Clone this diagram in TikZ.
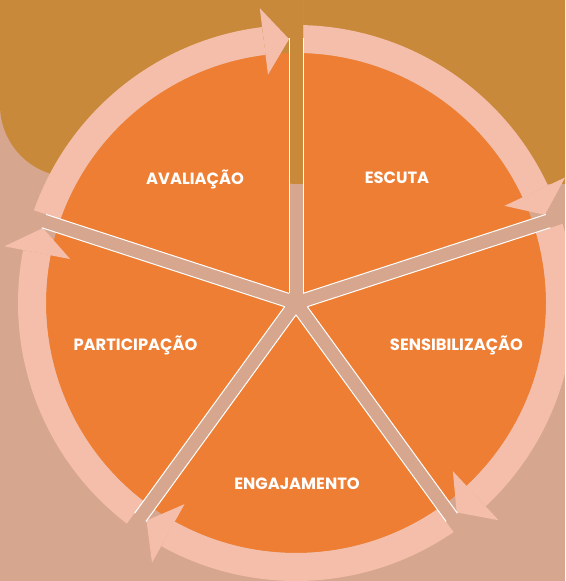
\documentclass[tikz,border=0pt]{standalone}
\usepackage{fontspec}
\setmainfont{Poppins}
\usetikzlibrary{calc}
\definecolor{mybrown}{RGB}{200,137,58}
\definecolor{mytan}{RGB}{214,166,142}
\definecolor{myorange}{RGB}{238,126,51}
\definecolor{mypink}{RGB}{244,190,170}

% background: tan page with the brown band on top
\newcommand{\backdrop}{%
  \fill[mytan] (0,0) rectangle (565,581);
  \fill[mybrown] (0,581) -- (0,476) arc[start angle=180, end angle=270, radius=72]
                 -- (300,397) -- (565,397) -- (565,581) -- cycle;
}

\begin{document}
\begin{tikzpicture}[x=1pt,y=1pt,
  ring/.style={mypink,line width=28pt},
  stage/.style={anchor=base,text=white,font=\fontsize{16.3}{19}\selectfont\bfseries}]
\useasboundingbox (0,0) rectangle (565,581);
\clip (0,0) rectangle (565,581);
\backdrop

\coordinate (c) at (296,278);
\fill[myorange] (c) circle [radius=250];

% ring arrows, clockwise
\draw[ring] ($(c)+(90:264)$) arc[start angle=90, end angle=25, radius=264];
\fill[mypink] ($(c)+(25:230)$) -- ($(c)+(19.5:264)$) -- ($(c)+(25:297)$) -- cycle;
\draw[ring] ($(c)+(18:264)$) arc[start angle=18, end angle=-47, radius=264];
\fill[mypink] ($(c)+(-47:230)$) -- ($(c)+(-52.5:264)$) -- ($(c)+(-47:297)$) -- cycle;
\draw[ring] ($(c)+(-54:264)$) arc[start angle=-54, end angle=-119, radius=264];
\fill[mypink] ($(c)+(-119:230)$) -- ($(c)+(-124.5:264)$) -- ($(c)+(-119:297)$) -- cycle;
\draw[ring] ($(c)+(-126:264)$) arc[start angle=-126, end angle=-191, radius=264];
\fill[mypink] ($(c)+(-191:230)$) -- ($(c)+(-196.5:264)$) -- ($(c)+(-191:297)$) -- cycle;
\draw[ring] ($(c)+(162:264)$) arc[start angle=162, end angle=97, radius=264];
\fill[mypink] ($(c)+(97:230)$) -- ($(c)+(91.5:264)$) -- ($(c)+(97:297)$) -- cycle;

% gaps between the slices
\foreach \a in {90,18,-54,-126,162} {
  \begin{scope}
    \clip ($(c)+(\a+90:7)$) -- ++(\a:450) -- ++(\a-90:14) -- ++(\a+180:450) -- cycle;
    \backdrop
  \end{scope}
  \draw[white,line width=1pt] ($(c)+(\a+90:7)+(\a:9.6)$) -- ($(c)+(\a+90:7)+(\a:265)$)
                              ($(c)+(\a-90:7)+(\a:9.6)$) -- ($(c)+(\a-90:7)+(\a:265)$);
}

\node[stage] (escuta) at (397,397) {ESCUTA};
\node[stage] (sensib) at (456.5,230.5) {SENSIBILIZAÇÃO};
\node[stage] (engaj)  at (297,91.5)  {ENGAJAMENTO};
\node[stage] (partic) at (135.5,230.5) {PARTICIPAÇÃO};
\node[stage] (avalia) at (195,396) {AVALIAÇÃO};
\end{tikzpicture}
\end{document}
